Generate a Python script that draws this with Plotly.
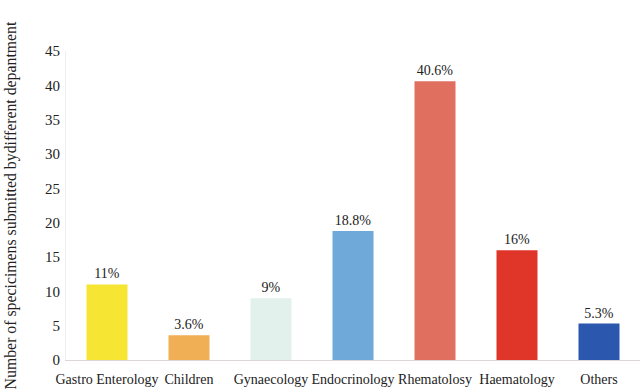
import plotly.graph_objects as go

categories = ["Gastro Enterology", "Children", "Gynaecology", "Endocrinology",
              "Rhematolosy", "Haematology", "Others"]
values = [11, 3.6, 9, 18.8, 40.6, 16, 5.3]
labels = ["11%", "3.6%", "9%", "18.8%", "40.6%", "16%", "5.3%"]
colors = ["#F6E532", "#F0AE55", "#E3F1EC", "#6FA9DA", "#E16F60", "#E0362A", "#2B57AE"]

font_family = "'Liberation Serif', 'Times New Roman', Times, 'DejaVu Serif', serif"

fig = go.Figure(go.Bar(
    x=categories, y=values, text=labels, textposition="outside",
    marker=dict(color=colors, line=dict(width=0)),
    textfont=dict(family=font_family, size=14, color="#222"),
    cliponaxis=False,
))

fig.update_layout(
    width=643, height=392,
    margin=dict(l=66, r=3, t=51, b=32),
    paper_bgcolor="white", plot_bgcolor="white",
    bargap=0.5,
    showlegend=False,
    font=dict(family=font_family, size=14, color="#222"),
    xaxis=dict(showline=True, linecolor="#DDD6D6", linewidth=1, ticks="",
               tickfont=dict(size=14), showgrid=False, ticklabelstandoff=6,
               tickangle=0),
    yaxis=dict(range=[0, 45], dtick=5, showgrid=False, showline=True,
               linecolor="#EEEEEE", linewidth=1, ticks="", zeroline=False,
               tickfont=dict(size=15), ticklabelstandoff=2,
               title=dict(text="Number of specicimens submitted bydifferent depantment",
                          font=dict(size=15.8), standoff=24)),
)

fig.write_html("out.html")
